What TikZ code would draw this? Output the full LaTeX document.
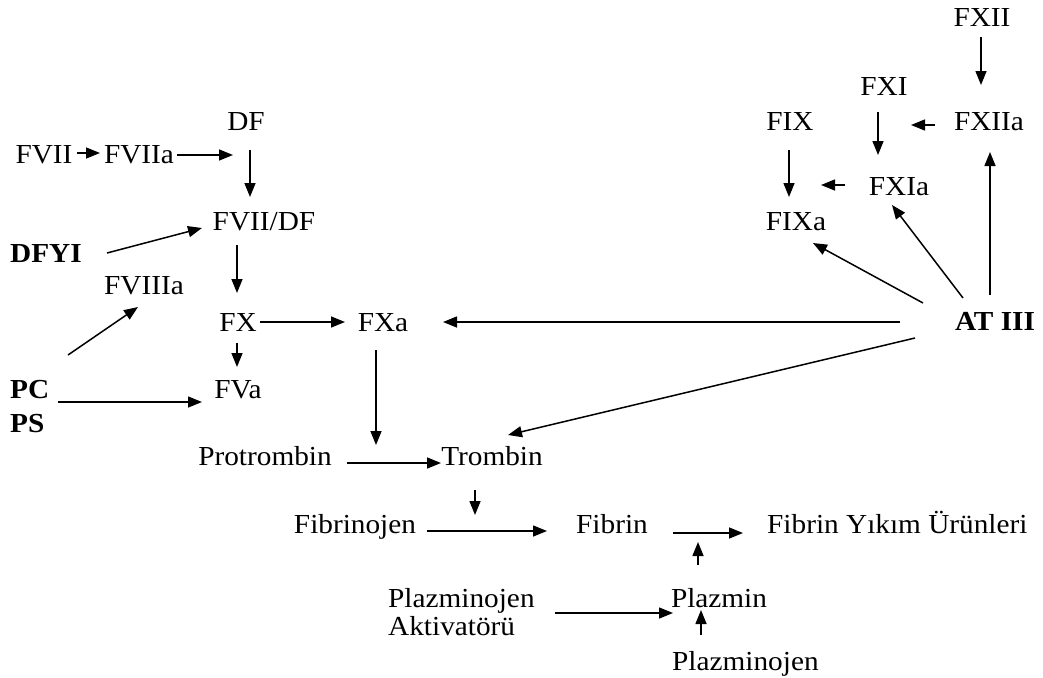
\documentclass[tikz,border=0pt]{standalone}
\usepackage{fontspec}
\setmainfont{Liberation Serif}[FakeStretch=1.065]
\usetikzlibrary{arrows.meta, positioning}

\begin{document}
\begin{tikzpicture}[x=1pt, y=-1pt,
    lbl/.style={inner sep=0pt, anchor=base, font=\fontsize{27.5}{28}\selectfont},
    arr/.style={line width=1.5pt, -{Triangle[length=14pt, width=11pt]}}]
    \useasboundingbox (0,0) rectangle (1043,677);

    \node[lbl] (fxii) at (982,27) {FXII};
    \node[lbl] (fxi) at (884,95) {FXI};
    \node[lbl] (fix) at (790,130) {FIX};
    \node[lbl] (fxiia) at (989,130) {FXIIa};
    \node[lbl] (fxia) at (899,195) {FXIa};
    \node[lbl] (fixa) at (796,230) {FIXa};
    \node[lbl] (at) at (995,330) {\textbf{AT III}};
    \node[lbl] (df) at (246,130) {DF};
    \node[lbl] (fvii) at (44,163) {FVII};
    \node[lbl] (fviia) at (139,163) {FVIIa};
    \node[lbl] (fviidf) at (264,230) {FVII/DF};
    \node[lbl, anchor=base west] (dfyi) at (10,262) {\textbf{DFYI}};
    \node[lbl] (fviiia) at (144,294) {FVIIIa};
    \node[lbl] (fx) at (238,331) {FX};
    \node[lbl] (fxa) at (383,331) {FXa};
    \node[lbl] (fva) at (238,398) {FVa};
    \node[lbl, anchor=base west] (pc) at (10,398) {\textbf{PC}};
    \node[lbl, anchor=base west] (ps) at (10,432) {\textbf{PS}};
    \node[lbl] (protrombin) at (265,465) {Protrombin};
    \node[lbl] (trombin) at (492,465) {Trombin};
    \node[lbl] (fibrinojen) at (355,533) {Fibrinojen};
    \node[lbl] (fibrin) at (612,533) {Fibrin};
    \node[lbl, anchor=base west] (fyu) at (767,533) {Fibrin Yıkım Ürünleri};
    \node[lbl, anchor=base west] (pa) at (388,607) {Plazminojen};
    \node[lbl, anchor=base west] (paakt) at ([yshift=-28pt]pa.base west) {Aktivatörü};
    \node[lbl] (plazmin) at (719,607) {Plazmin};
    \node[lbl, anchor=base west] (plazminojen) at (672,670) {Plazminojen};

    \draw[arr] ([xshift=33pt, yshift=10pt]fvii.base) -- ([xshift=-39pt, yshift=10pt]fviia.base);
    \draw[arr] ([xshift=38pt, yshift=8pt]fviia.base) -- ([xshift=-13pt, yshift=-25pt]df.base);
    \draw[arr] ([xshift=4pt, yshift=-20pt]df.base) -- ([xshift=-14pt, yshift=33pt]fviidf.base);
    \draw[arr] ([xshift=97pt, yshift=9pt]dfyi.base west) -- ([xshift=-62pt, yshift=2pt]fviidf.base);
    \draw[arr] ([xshift=-27pt, yshift=-15pt]fviidf.base) -- ([xshift=-1pt, yshift=38pt]fx.base);
    \draw[arr] ([xshift=58pt, yshift=43pt]pc.base west) -- ([xshift=-6pt, yshift=-13pt]fviiia.base);
    \draw[arr] ([xshift=22pt, yshift=9pt]fx.base) -- ([xshift=-38pt, yshift=9pt]fxa.base);
    \draw[arr] ([xshift=-1pt, yshift=-12pt]fx.base) -- ([xshift=-1pt, yshift=31pt]fva.base);
    \draw[arr] ([xshift=48pt, yshift=30pt]ps.base west) -- ([xshift=-36pt, yshift=-4pt]fva.base);
    \draw[arr] ([xshift=-7pt, yshift=-19pt]fxa.base) -- ([xshift=-116pt, yshift=20pt]trombin.base);
    \draw[arr] ([xshift=82pt, yshift=2pt]protrombin.base) -- ([xshift=-51pt, yshift=2pt]trombin.base);

    \draw[arr] ([xshift=-95pt, yshift=8pt]at.base) -- ([xshift=60pt, yshift=9pt]fxa.base);
    \draw[arr] ([xshift=-80pt, yshift=-8pt]at.base) -- ([xshift=16pt, yshift=30pt]trombin.base);
    \draw[arr] ([xshift=-72pt, yshift=27pt]at.base) -- ([xshift=17pt, yshift=-13pt]fixa.base);
    \draw[arr] ([xshift=-32pt, yshift=32pt]at.base) -- ([xshift=-7pt, yshift=-10pt]fxia.base);
    \draw[arr] ([xshift=-5pt, yshift=35pt]at.base) -- ([xshift=1pt, yshift=-22pt]fxiia.base);
    \draw[arr] ([xshift=-1pt, yshift=-10pt]fxii.base) -- ([xshift=-8pt, yshift=45pt]fxiia.base);
    \draw[arr] ([xshift=-6pt, yshift=-17pt]fxi.base) -- ([xshift=-21pt, yshift=40pt]fxia.base);
    \draw[arr] ([xshift=-1pt, yshift=-20pt]fix.base) -- ([xshift=-7pt, yshift=33pt]fixa.base);
    \draw[arr] ([xshift=-54pt, yshift=5pt]fxiia.base) -- ([xshift=27pt, yshift=-30pt]fxi.base);
    \draw[arr] ([xshift=-54pt, yshift=10pt]fxia.base) -- ([xshift=25pt, yshift=45pt]fixa.base);

    \draw[arr] ([xshift=-17pt, yshift=-25pt]trombin.base) -- ([xshift=-137pt, yshift=18pt]fibrin.base);
    \draw[arr] ([xshift=72pt, yshift=2pt]fibrinojen.base) -- ([xshift=-65pt, yshift=2pt]fibrin.base);
    \draw[arr] ([xshift=61pt]fibrin.base) -- ([xshift=-24pt]fyu.base west);
    \draw[arr] ([xshift=-21pt, yshift=42pt]plazmin.base) -- ([xshift=86pt, yshift=-9pt]fibrin.base);
    \draw[arr] ([xshift=167pt, yshift=-6pt]pa.base west) -- ([xshift=-46pt, yshift=-6pt]plazmin.base);
    \draw[arr] ([xshift=29pt, yshift=35pt]plazminojen.base west) -- ([xshift=-18pt, yshift=-3pt]plazmin.base);
\end{tikzpicture}
\end{document}
